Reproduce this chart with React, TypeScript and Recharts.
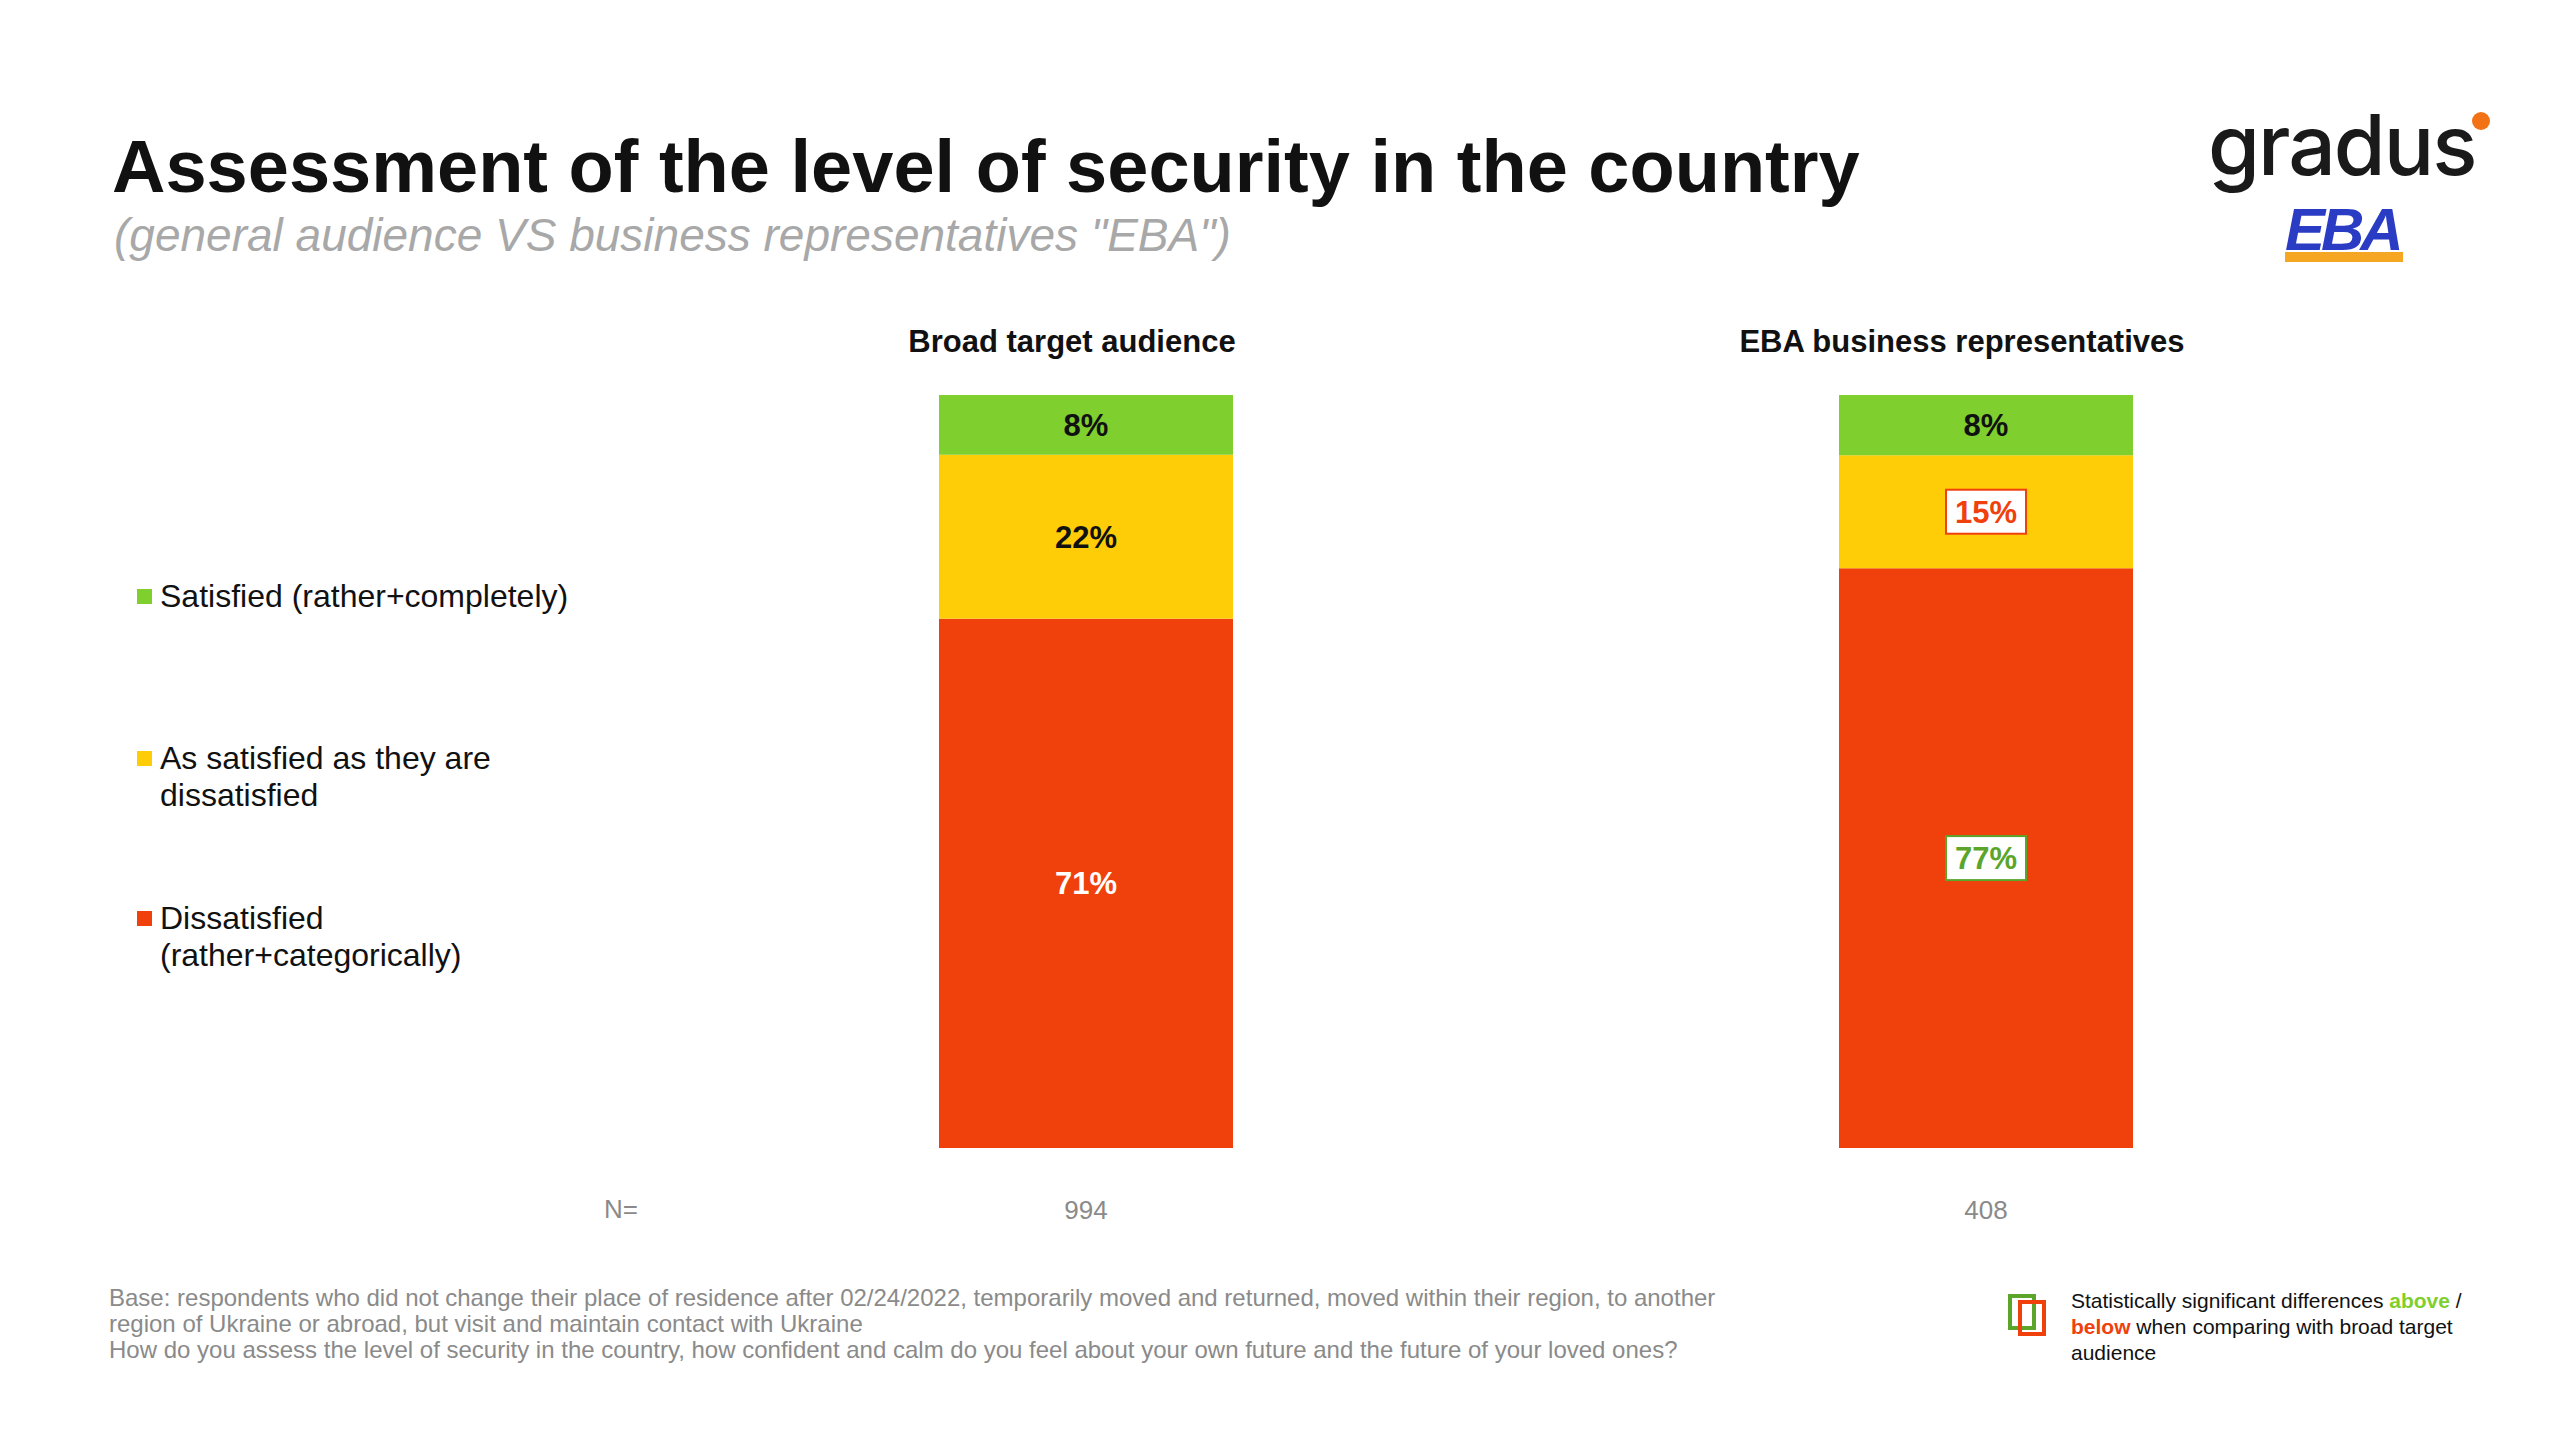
import React from "react"
import { BarChart, Bar, XAxis, YAxis, LabelList } from "recharts"

const groups = ["Broad target audience", "EBA business representatives"]
const sampleSizes = ["994", "408"]
const satisfied = [8, 8]
const neutral = [22, 15]
const dissatisfied = [71, 77]
// 0 = none, 1 = significantly above, -1 = significantly below
const neutralSig = [0, -1]
const dissatisfiedSig = [0, 1]

const GREEN = "#7FCF2E"
const YELLOW = "#FFCC08"
const RED = "#F0400C"
const SIG_GREEN = "#5AA52A"

const data = groups.map((g, i) => ({
  name: g,
  n: sampleSizes[i],
  satisfied: satisfied[i],
  neutral: neutral[i],
  dissatisfied: dissatisfied[i],
}))

const font = "'Liberation Sans', Arial, sans-serif"

function makeLabel(values: number[], sig: number[], color: string) {
  return (props: any) => {
    const { x, y, width, height, index } = props
    const cx = x + width / 2
    const cy = y + height / 2
    const s = sig[index]
    const text = `${values[index]}%`
    if (s !== 0) {
      const c = s > 0 ? SIG_GREEN : RED
      return (
        <g>
          <rect x={cx - 40} y={cy - 22} width={80} height={44} fill="#fff" stroke={c} strokeWidth={2} />
          <text x={cx} y={cy + 11} textAnchor="middle" fontSize={31} fontWeight="bold" fill={c} fontFamily={font}>{text}</text>
        </g>
      )
    }
    return (
      <text x={cx} y={cy + 11} textAnchor="middle" fontSize={31} fontWeight="bold" fill={color} fontFamily={font}>{text}</text>
    )
  }
}

function HeaderTick(props: any) {
  const { x, y, payload, index } = props
  const shift = index === 0 ? -14 : -24
  return (
    <text x={x + shift} y={y} textAnchor="middle" fontSize={31} fontWeight="bold" fill="#111" fontFamily={font}>
      {payload.value}
    </text>
  )
}

const legendItems = [
  { color: GREEN, lines: ["Satisfied (rather+completely)"], y: 598 },
  { color: YELLOW, lines: ["As satisfied as they are", "dissatisfied"], y: 760 },
  { color: RED, lines: ["Dissatisfied", "(rather+categorically)"], y: 920 },
]

export default function App() {
  return (
    <div style={{ position: "absolute", left: 0, top: 0, width: 2560, height: 1440, background: "#fff", fontFamily: font }}>
      <div style={{ position: "absolute", left: 112, top: 124, fontSize: 74, fontWeight: "bold", color: "#111", whiteSpace: "nowrap" }}>
        Assessment of the level of security in the country
      </div>
      <div style={{ position: "absolute", left: 114, top: 208, fontSize: 46, fontStyle: "italic", color: "#a8a8a8", whiteSpace: "nowrap" }}>
        (general audience VS business representatives "EBA")
      </div>
      <div style={{ position: "absolute", left: 2208, top: 94, fontSize: 84, fontWeight: 500, color: "#1a1a1a", fontFamily: "Inter, sans-serif", letterSpacing: -2 }}>
        gradus
      </div>
      <div style={{ position: "absolute", left: 2472, top: 112, width: 18, height: 18, borderRadius: 9, background: "#F47216" }} />
      <div style={{ position: "absolute", left: 2285, top: 195, fontSize: 60, fontWeight: "bold", fontStyle: "italic", color: "#2B3CC4", letterSpacing: -4 }}>
        EBA
      </div>
      <div style={{ position: "absolute", left: 2285, top: 252, width: 118, height: 10, background: "#F5A623" }} />

      {legendItems.map((l) => (
        <div key={l.color} style={{ position: "absolute", left: 137, top: l.y - 20 }}>
          <div style={{ position: "absolute", left: 0, top: 11, width: 15, height: 15, background: l.color }} />
          <div style={{ position: "absolute", left: 23, top: 0, fontSize: 32, lineHeight: "37px", color: "#111", whiteSpace: "nowrap" }}>
            {l.lines.map((t) => <div key={t}>{t}</div>)}
          </div>
        </div>
      ))}

      <div style={{ position: "absolute", left: 604, top: 1194, fontSize: 26, color: "#8a8a8a" }}>N=</div>

      <div style={{ position: "absolute", left: 0, top: 0 }}>
        <BarChart
          width={2560}
          height={1440}
          data={data}
          stackOffset="expand"
          barCategoryGap={0}
          margin={{ top: 365, right: 124, bottom: 262, left: 636 }}
        >
          <XAxis
            xAxisId="top"
            dataKey="name"
            orientation="top"
            axisLine={false}
            tickLine={false}
            tick={<HeaderTick />}
            tickMargin={37}
            interval={0}
          />
          <XAxis
            xAxisId="bottom"
            dataKey="n"
            orientation="bottom"
            axisLine={false}
            tickLine={false}
            tick={{ fontSize: 26, fill: "#8a8a8a", fontFamily: font }}
            tickMargin={47}
            interval={0}
          />
          <YAxis hide domain={[0, 1]} />
          <Bar xAxisId="top" dataKey="dissatisfied" stackId="a" fill={RED} barSize={294} isAnimationActive={false}>
            <LabelList dataKey="dissatisfied" content={makeLabel(dissatisfied, dissatisfiedSig, "#fff")} />
          </Bar>
          <Bar xAxisId="top" dataKey="neutral" stackId="a" fill={YELLOW} barSize={294} isAnimationActive={false}>
            <LabelList dataKey="neutral" content={makeLabel(neutral, neutralSig, "#111")} />
          </Bar>
          <Bar xAxisId="top" dataKey="satisfied" stackId="a" fill={GREEN} barSize={294} isAnimationActive={false}>
            <LabelList dataKey="satisfied" content={makeLabel(satisfied, [0, 0], "#111")} />
          </Bar>
        </BarChart>
      </div>

      <div style={{ position: "absolute", left: 109, top: 1285, width: 1760, fontSize: 24, lineHeight: "26px", color: "#8a8a8a" }}>
        <div>Base: respondents who did not change their place of residence after 02/24/2022, temporarily moved and returned, moved within their region, to another</div>
        <div>region of Ukraine or abroad, but visit and maintain contact with Ukraine</div>
        <div>How do you assess the level of security in the country, how confident and calm do you feel about your own future and the future of your loved ones?</div>
      </div>

      <div style={{ position: "absolute", left: 2008, top: 1294, width: 20, height: 28, border: `4px solid ${SIG_GREEN}` }} />
      <div style={{ position: "absolute", left: 2018, top: 1300, width: 20, height: 28, border: `4px solid ${RED}` }} />
      <div style={{ position: "absolute", left: 2071, top: 1288, width: 430, fontSize: 21, lineHeight: "26px", color: "#111" }}>
        Statistically significant differences <b style={{ color: GREEN }}>above</b> /{" "}
        <b style={{ color: RED }}>below</b> when comparing with broad target audience
      </div>
    </div>
  )
}
